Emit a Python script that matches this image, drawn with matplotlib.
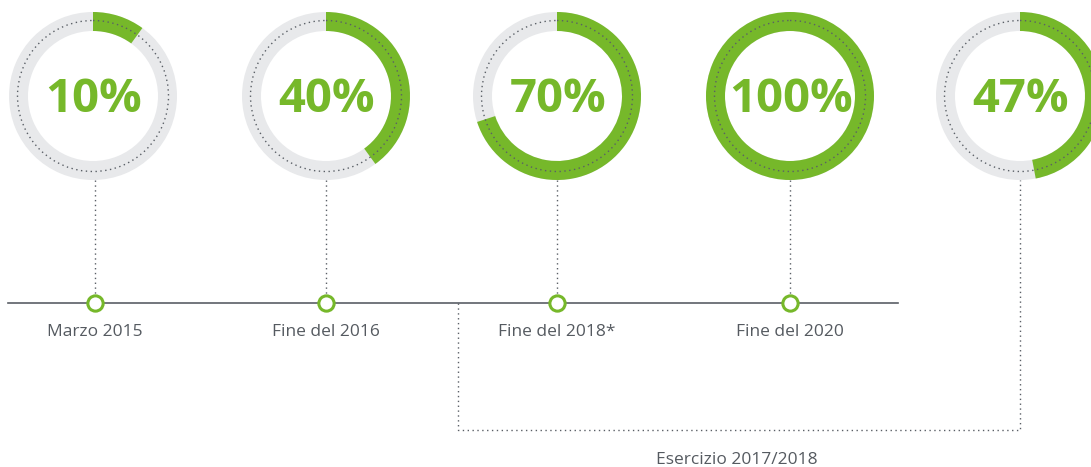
import matplotlib
matplotlib.use("Agg")
import matplotlib.pyplot as plt
from matplotlib.patches import Wedge, Circle

# dati
percentuali = [10, 40, 70, 100, 47]
etichette_pct = ["10%", "40%", "70%", "100%", "47%"]
tappe = ["Marzo 2015", "Fine del 2016", "Fine del 2018*", "Fine del 2020"]
esercizio = "Esercizio 2017/2018"

VERDE = "#76b82a"
GRIGIO_ANELLO = "#e8e9eb"
GRIGIO_TESTO = "#555a60"
GRIGIO_LINEA = "#5a5f66"

W, H = 1091, 467
fig = plt.figure(figsize=(W / 100, H / 100), dpi=100)
ax = fig.add_axes([0, 0, 1, 1])
ax.set_xlim(0, W)
ax.set_ylim(H, 0)
ax.set_aspect("equal")
ax.axis("off")

centri_x = [93, 326, 557, 790, 1020]
cy = 96
r_out, larghezza, r_dot = 84, 19, 75.5

for x, pct, lab in zip(centri_x, percentuali, etichette_pct):
    ax.add_patch(Wedge((x, cy), r_out, 0, 360, width=larghezza,
                       facecolor=GRIGIO_ANELLO, edgecolor="none"))
    # asse y invertito: gli angoli crescenti vanno in senso orario
    ax.add_patch(Wedge((x, cy), r_out, -90, -90 + 360 * pct / 100, width=larghezza,
                       facecolor=VERDE, edgecolor="none"))
    ax.add_patch(Circle((x, cy), r_dot, fill=False, edgecolor=GRIGIO_LINEA,
                        linewidth=1.0, linestyle=(0, (1, 2.5))))
    ax.text(x + 1, cy + 3, lab, ha="center", va="center", color=VERDE,
            fontsize=34, fontweight="bold", family="Open Sans")

# linea del tempo
y_linea = 303
ax.plot([8, 898], [y_linea, y_linea], color=GRIGIO_LINEA, linewidth=1.2, zorder=2)
for i, testo in enumerate(tappe):
    x = centri_x[i] + (2 if i == 0 else 0)
    ax.plot([x, x], [cy + r_out, y_linea - 6], color=GRIGIO_LINEA,
            linewidth=1.0, linestyle=(0, (1, 2.5)))
    ax.plot(x, y_linea, marker="o", markersize=11, markerfacecolor="white",
            markeredgecolor=VERDE, markeredgewidth=2.2, zorder=3)
    ax.text(x, 332, testo, ha="center", va="center", color=GRIGIO_TESTO,
            fontsize=12.5, family="Open Sans")

# riquadro esercizio
x_sx, x_dx, y_basso = 458, centri_x[4], 430
ax.plot([x_sx, x_sx, x_dx, x_dx], [y_linea, y_basso, y_basso, cy + r_out],
        color=GRIGIO_LINEA, linewidth=1.0, linestyle=(0, (1, 2.5)))
ax.text(737, 460, esercizio, ha="center", va="center", color=GRIGIO_TESTO,
        fontsize=12.5, family="Open Sans")

fig.savefig("out.png", dpi=100)
